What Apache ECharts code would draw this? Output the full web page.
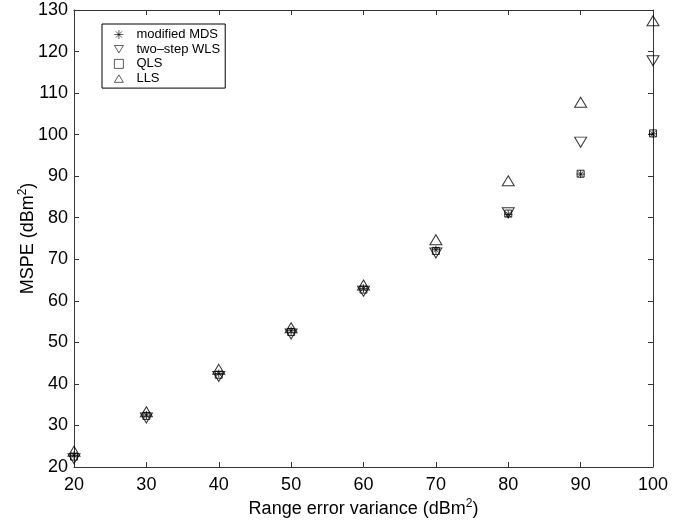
<!DOCTYPE html>
<html><head><meta charset="utf-8">
<script src="https://cdn.jsdelivr.net/npm/echarts@6/dist/echarts.min.js"></script>
<style>html,body{margin:0;padding:0;background:#fff}#c{width:695px;height:527px}</style>
</head><body><div id="c"></div>
<script>
const xValues = [20, 30, 40, 50, 60, 70, 80, 90, 100];
const mdsValues = [22.8, 32.5, 42.5, 52.8, 63.0, 72.3, 80.8, 90.5, 100.2];
const wlsValues = [22.0, 31.8, 41.8, 52.0, 62.3, 71.5, 81.2, 98.2, 117.8];
const qlsValues = [22.5, 32.3, 42.2, 52.5, 62.7, 72.0, 81.0, 90.6, 100.3];
const llsValues = [23.8, 33.3, 43.5, 53.5, 63.8, 74.7, 88.9, 107.8, 127.4];
const seriesNames = ['modified MDS', 'two\u2013step WLS', 'QLS', 'LLS'];

const FONT = 'Liberation Sans, Arial, Helvetica, sans-serif';
const pairs = v => xValues.map((x, i) => [x, v[i]]);
const star = 'path://M0,5 L10,5 M5,0 L5,10 M1.5,1.5 L8.5,8.5 M8.5,1.5 L1.5,8.5';
const downTri = 'path://M0,0 L12,0 L6,10 Z';
const upTri = 'path://M6,0 L12,10 L0,10 Z';
const hollow = {color: 'rgba(0,0,0,0)', borderColor: '#000', borderWidth: 1};
const hollowThin = {color: 'rgba(0,0,0,0)', borderColor: '#000', borderWidth: 0.8};

const chart = echarts.init(document.getElementById('c'));
const axisCommon = {
  axisLine: {show: true, lineStyle: {color: '#333', width: 1}},
  axisTick: {show: true, inside: true, length: 5, lineStyle: {color: '#333'}},
  splitLine: {show: false}
};
const richName = {
  a: {fontFamily: FONT, fontSize: 18, color: '#000'},
  s: {fontFamily: FONT, fontSize: 12, color: '#000', verticalAlign: 'top', padding: [0, 0, 10, 0]}
};
chart.setOption({
  animation: false,
  backgroundColor: '#fff',
  grid: {left: 74, right: 42, top: 10, bottom: 60},
  legend: {
    orient: 'vertical', left: 102, top: 24,
    data: [
      {name: seriesNames[0], icon: star, itemStyle: hollowThin},
      {name: seriesNames[1], icon: downTri, itemStyle: hollowThin},
      {name: seriesNames[2], icon: 'rect', itemStyle: hollowThin},
      {name: seriesNames[3], icon: upTri, itemStyle: hollowThin}
    ],
    borderColor: '#000', borderWidth: 1,
    padding: [4, 5, 3, 12], itemGap: 1.7,
    itemWidth: 9, itemHeight: 9,
    textStyle: {fontFamily: FONT, fontSize: 13, lineHeight: 11, color: '#000', padding: [0, 0, 0, 8]}
  },
  xAxis: [
    Object.assign({type: 'value', min: 20, max: 100, interval: 10, position: 'bottom',
      name: '{a|Range error variance (dBm}{s|2}{a|)}', nameLocation: 'middle', nameGap: 42,
      nameMoveOverlap: false,
      nameTextStyle: {rich: richName, verticalAlign: 'middle'},
      axisLabel: {fontFamily: FONT, fontSize: 18, color: '#000', margin: 9}}, axisCommon),
    Object.assign({type: 'value', min: 20, max: 100, interval: 10, position: 'top',
      axisLabel: {show: false}}, axisCommon)
  ],
  yAxis: [
    Object.assign({type: 'value', min: 20, max: 130, interval: 10, position: 'left',
      name: '{a|MSPE (dBm}{s|2}{a|)}', nameLocation: 'middle', nameGap: 46, nameRotate: 90,
      nameMoveOverlap: false,
      nameTextStyle: {rich: richName, verticalAlign: 'middle'},
      axisLabel: {fontFamily: FONT, fontSize: 18, color: '#000', margin: 6}}, axisCommon),
    Object.assign({type: 'value', min: 20, max: 130, interval: 10, position: 'right',
      axisLabel: {show: false}}, axisCommon)
  ],
  series: [
    {name: seriesNames[0], type: 'scatter', data: pairs(mdsValues), symbol: star, symbolSize: 8,
      itemStyle: hollow, z: 5},
    {name: seriesNames[1], type: 'scatter', data: pairs(wlsValues), symbol: downTri,
      symbolSize: [12, 10], itemStyle: hollow, z: 4},
    {name: seriesNames[2], type: 'scatter', data: pairs(qlsValues), symbol: 'rect', symbolSize: 7,
      itemStyle: hollow, z: 3},
    {name: seriesNames[3], type: 'scatter', data: pairs(llsValues), symbol: upTri,
      symbolSize: [12, 10], itemStyle: hollow, z: 2}
  ]
});
</script>
</body></html>
